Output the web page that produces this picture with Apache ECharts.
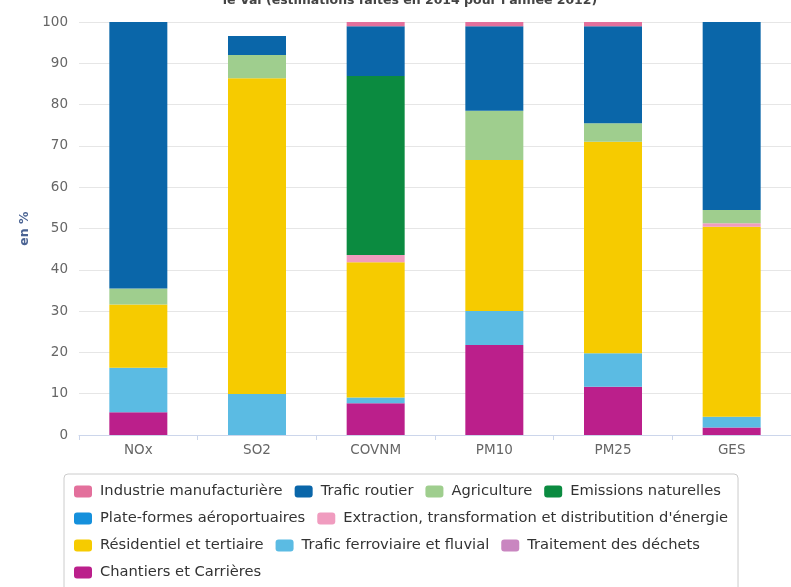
<!DOCTYPE html>
<html>
<head>
<meta charset="utf-8">
<script src="https://cdn.jsdelivr.net/npm/echarts@6/dist/echarts.min.js"></script>
<style>
  html, body { margin: 0; padding: 0; background: #fff; }
  #chart { width: 791px; height: 587px; }
</style>
</head>
<body>
<div id="chart"></div>
<script>
// Pollutants on the x axis
const categories = ['NOx', 'SO2', 'COVNM', 'PM10', 'PM25', 'GES'];

// Sector shares (%) per pollutant, in the same order as categories
const industrie     = [0,    0,    1.0,  1.0,  1.0,  0];
const traficRoutier = [64.5, 4.6,  12.1, 20.5, 23.5, 45.5];
const agriculture   = [3.9,  5.6,  0,    11.9, 4.5,  3.2];
const emissionsNat  = [0,    0,    43.3, 0,    0,    0];
const aeroports     = [0,    0,    0,    0,    0,    0];
const extraction    = [0,    0,    1.8,  0,    0,    0.9];
const residentiel   = [15.3, 76.5, 32.7, 36.6, 51.2, 46.0];
const ferroviaire   = [10.8, 9.9,  1.4,  8.2,  8.1,  2.6];
const dechets       = [0,    0,    0,    0,    0,    0];
const chantiers     = [5.5,  0,    7.7,  21.8, 11.7, 1.8];

const yTicks = { min: 0, max: 100, interval: 10 };

// Sectors in legend order (top of the stack first)
const sectors = [
  { name: 'Industrie manufacturière', data: industrie, color: '#e3709c' },
  { name: 'Trafic routier', data: traficRoutier, color: '#0a66a9' },
  { name: 'Agriculture', data: agriculture, color: '#9fce8e' },
  { name: 'Emissions naturelles', data: emissionsNat, color: '#0b8b40' },
  { name: 'Plate-formes aéroportuaires', data: aeroports, color: '#1590dc' },
  { name: 'Extraction, transformation et distributition d\'énergie', data: extraction, color: '#f09cbf' },
  { name: 'Résidentiel et tertiaire', data: residentiel, color: '#f6cb00' },
  { name: 'Trafic ferroviaire et fluvial', data: ferroviaire, color: '#5bbbe3' },
  { name: 'Traitement des déchets', data: dechets, color: '#c986c0' },
  { name: 'Chantiers et Carrières', data: chantiers, color: '#bb1f8b' }
];

const font = '"DejaVu Sans", Verdana, sans-serif';

// ECharts stacks the first series at the bottom, so feed them in reverse
const series = sectors.slice().reverse().map(s => ({
  name: s.name,
  type: 'bar',
  stack: 'total',
  barWidth: 58,
  data: s.data,
  itemStyle: { color: s.color },
  emphasis: { disabled: true }
}));

const chart = echarts.init(document.getElementById('chart'), null, { renderer: 'canvas' });
chart.setOption({
  animation: false,
  color: sectors.map(s => s.color),
  title: {
    text: 'le Val (estimations faites en 2014 pour l\'année 2012)',
    left: 405,
    textAlign: 'center',
    top: -11,
    textStyle: { fontFamily: font, fontSize: 12.5, fontWeight: 'bold', color: '#444' }
  },
  grid: { left: 79, right: -15, top: 22, bottom: 152, containLabel: false },
  xAxis: {
    type: 'category',
    data: categories,
    axisLine: { lineStyle: { color: '#ccd6eb' } },
    axisTick: { show: true, length: 5, lineStyle: { color: '#ccd6eb' } },
    axisLabel: { color: '#666', fontFamily: font, fontSize: 13.5, margin: 8 }
  },
  yAxis: {
    type: 'value',
    min: yTicks.min,
    max: yTicks.max,
    interval: yTicks.interval,
    name: 'en %',
    nameLocation: 'middle',
    nameGap: 45,
    nameRotate: 90,
    nameTextStyle: { color: '#4a6393', fontFamily: font, fontSize: 12.5, fontWeight: 'bold' },
    axisLine: { show: false },
    axisTick: { show: false },
    splitLine: { lineStyle: { color: '#e6e6e6' } },
    axisLabel: { color: '#666', fontFamily: font, fontSize: 13.5, margin: 11 }
  },
  legend: {
    data: sectors.map(s => s.name),
    left: 64,
    top: 474,
    width: 680,
    padding: [10, 10, 12, 10],
    itemGap: 12,
    itemWidth: 18,
    itemHeight: 12,
    icon: 'roundRect',
    borderColor: '#cccccc',
    borderWidth: 1,
    borderRadius: 4,
    textStyle: { color: '#333', fontFamily: font, fontSize: 14.7, padding: [0, 0, 0, 3] }
  },
  series: series
});
</script>
</body>
</html>
